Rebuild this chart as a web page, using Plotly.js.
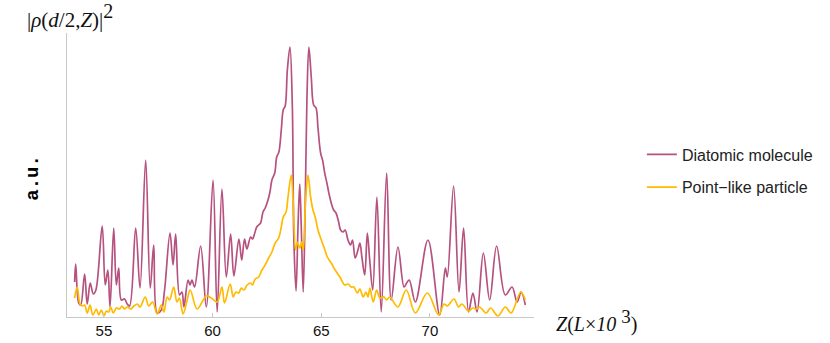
<!DOCTYPE html>
<html>
<head>
<meta charset="utf-8">
<script src="https://cdn.plot.ly/plotly-3.0.1.min.js"></script>
<style>html,body{margin:0;padding:0;background:#fff;}#chart{width:830px;height:343px;}</style>
</head>
<body>
<div id="chart"></div>
<script>
// Diatomic molecule |rho(d/2,Z)|^2 (a.u.)
const zDiatomic = [53.65,53.70,53.84,53.93,54.11,54.23,54.37,54.51,54.63,54.92,55.06,55.18,55.28,55.45,55.57,55.68,55.80,55.95,56.07,56.18,56.46,56.66,56.92,57.13,57.29,57.45,57.64,57.79,58.04,58.18,58.30,58.48,58.59,58.68,58.87,58.96,59.05,59.17,59.45,59.71,60.02,60.21,60.43,60.63,60.83,60.98,61.21,61.34,61.47,61.58,61.75,61.84,61.94,62.03,62.12,62.21,62.32,62.42,62.55,62.64,62.73,62.86,62.95,63.05,63.16,63.25,63.34,63.44,63.56,63.67,63.74,63.84,63.93,64.01,64.08,64.17,64.26,64.34,64.43,64.54,64.65,64.76,64.85,64.97,65.06,65.16,65.26,65.35,65.46,65.57,65.68,65.80,65.89,66.00,66.10,66.23,66.35,66.44,66.56,66.69,66.78,66.87,67.00,67.12,67.23,67.37,67.56,67.76,68.01,68.22,68.53,68.81,68.93,69.05,69.33,69.91,70.45,70.71,70.80,71.09,71.34,71.55,71.78,71.98,72.17,72.46,72.75,73.07,73.47,73.78,74.01,74.20,74.39];
const diatomic = [35,53,14,12,43,13,34,23,27,91,32,47,10,89,32,49,17,18,13,11,89,29,157,29,72,4,7,27,84,52,83,22,25,10,37,32,37,30,71,10,137,5,128,40,83,41,78,57,78,68,80,78,84,90,92,94,105,109,117,125,137,144,160,165,187,207,211,247,270,210,77,26,90,133,90,25,110,217,270,240,212,209,189,164,157,144,134,124,114,107,104,95,87,85,87,77,72,77,59,67,74,60,42,84,57,27,120,5,144,17,70,30,34,37,15,77,2,49,40,131,25,89,5,24,5,64,17,71,22,30,15,25,12];

// Point-like particle
const zPoint = [53.65,53.77,53.90,54.02,54.11,54.23,54.36,54.49,54.65,54.76,54.88,55.00,55.11,55.22,55.31,55.43,55.57,55.72,55.83,55.95,56.07,56.23,56.38,56.53,56.66,56.90,57.06,57.24,57.45,57.64,57.76,57.91,58.02,58.21,58.36,58.47,58.64,58.81,58.97,59.29,59.71,59.94,60.21,60.43,60.55,60.81,60.95,61.07,61.20,61.32,61.44,61.59,61.75,61.84,61.96,62.12,62.27,62.42,62.58,62.73,62.88,63.04,63.16,63.25,63.38,63.47,63.62,63.71,63.82,63.90,64.01,64.10,64.17,64.28,64.39,64.51,64.62,64.72,64.85,64.97,65.12,65.28,65.46,65.64,65.86,66.08,66.23,66.38,66.50,66.66,66.78,66.93,67.06,67.15,67.24,67.39,67.55,67.70,67.89,68.01,68.15,68.53,68.91,69.33,69.88,70.40,70.65,70.80,71.11,71.32,71.47,71.78,71.98,72.13,72.29,72.59,72.79,73.13,73.47,73.74,74.18,74.39];
const point = [19,30,13,11,12,4,12,2,8,2,7,1,6,5,10,4,9,8,11,8,10,8,11,13,10,20,11,15,3,12,5,20,17,30,15,19,3,15,27,8,21,19,15,30,14,33,20,25,24,29,27,32,34,32,38,40,47,52,59,65,74,79,90,100,105,120,142,114,67,75,69,75,67,117,142,120,107,100,87,79,70,60,54,47,40,32,33,30,30,24,28,20,25,20,29,15,27,19,20,17,20,10,27,4,24,2,13,11,18,10,13,6,9,8,10,4,9,1,10,4,25,17];

const xTicks = [55, 60, 65, 70];
const seriesNames = ["Diatomic molecule", "Point\u2212like particle"];
const colors = ["#b5527f", "#ffbb00"];

const traces = [
  {x: zDiatomic, y: diatomic, name: seriesNames[0], legendgroup: "a", type: "scatter", mode: "lines",
   line: {color: colors[0], width: 1.7, shape: "spline", smoothing: 1}, hoverinfo: "skip"},
  {x: zPoint, y: point, name: seriesNames[1], legendgroup: "b", type: "scatter", mode: "lines",
   line: {color: colors[1], width: 1.7, shape: "spline", smoothing: 1}, hoverinfo: "skip"}
];

const layout = {
  width: 830, height: 343,
  margin: {l: 67, r: 296, t: 33, b: 26, pad: 0},
  paper_bgcolor: "#fff", plot_bgcolor: "#fff",
  showlegend: true,
  xaxis: {
    range: [53.30, 74.79], showline: true, linecolor: "#c8c8c8", linewidth: 1,
    ticks: "inside", ticklen: 4, tickcolor: "#c8c8c8", tickvals: xTicks, ticktext: xTicks.map(String),
    showgrid: false, zeroline: false, tickfont: {family: "Liberation Sans, Arial", size: 15, color: "#111"}
  },
  yaxis: {
    range: [0, 284], showline: true, linecolor: "#c8c8c8", linewidth: 1,
    ticks: "", showticklabels: false, showgrid: false, zeroline: false
  },
  legend: {
    x: 1.231, xanchor: "left", y: 0.514, yanchor: "middle",
    traceorder: "grouped", tracegroupgap: 9, itemwidth: 30,
    font: {family: "Liberation Sans, Arial", size: 16, color: "#222"},
    bgcolor: "rgba(0,0,0,0)"
  },
  annotations: [
    {xref: "paper", yref: "paper", x: 0.006, y: 1.06, xanchor: "center", yanchor: "middle", showarrow: false,
     text: "|<i>\u03c1</i>(<i>d</i>/2,<i>Z</i>)|<sup><span style=\"font-size:20px\">2</span></sup>",
     font: {family: "Liberation Serif, Times New Roman", size: 21, color: "#111"}},
    {xref: "paper", yref: "paper", x: -0.073, y: 0.49, xanchor: "center", yanchor: "middle", showarrow: false,
     textangle: -90, text: "<b>a.u.</b>",
     font: {family: "Liberation Mono, DejaVu Sans Mono", size: 19, color: "#000"}},
    {xref: "paper", yref: "paper", x: 1.133, y: -0.015, xanchor: "center", yanchor: "middle", showarrow: false,
     text: "<i>Z</i>(<i>L</i>\u00d7<i>10</i> <sup><span style=\"font-size:19px\">3</span></sup>)",
     font: {family: "Liberation Serif, Times New Roman", size: 20, color: "#111"}}
  ]
};

Plotly.newPlot("chart", traces, layout, {staticPlot: true, displayModeBar: false});
</script>
</body>
</html>
